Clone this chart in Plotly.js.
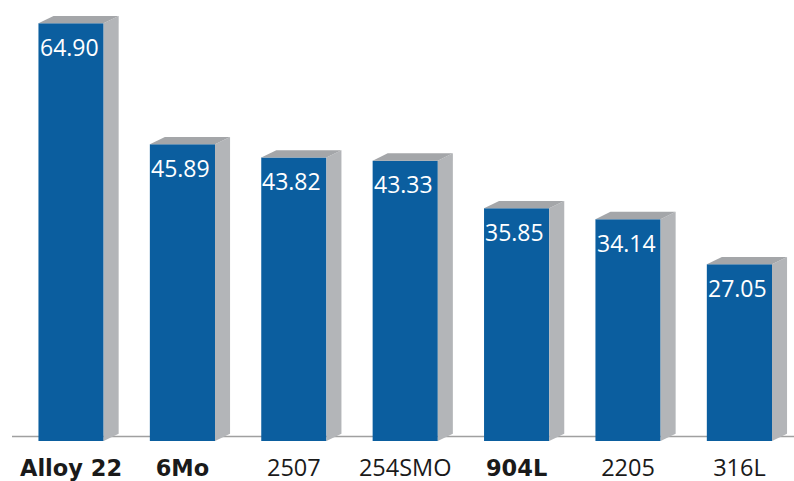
<!DOCTYPE html>
<html><head><meta charset="utf-8">
<script src="https://cdn.plot.ly/plotly-3.0.1.min.js"></script>
<style>html,body{margin:0;padding:0;background:#fff}</style>
</head><body><div id="chart" style="width:794px;height:481px"></div>
<script>
const categories = ['Alloy 22', '6Mo', '2507', '254SMO', '904L', '2205', '316L'];
const values = [64.90, 45.89, 43.82, 43.33, 35.85, 34.14, 27.05];
const boldCategories = ['Alloy 22', '6Mo', '904L'];
const valueLabels = values.map(v => v.toFixed(2));

const BASE = -0.7, W = 0.585, DX = 0.135, DY = 1.15;
const BLUE = '#0b5e9f', SIDE = '#b3b5b8', TOP = '#a4a6a9';
const xs = categories.map((c, i) => i);
const tickText = categories.map(c => boldCategories.includes(c)
  ? '<span style="font-family:DejaVu Sans;font-weight:bold;font-size:22.5px">' + c + '</span>' : c);

const traces = [];
values.forEach((v, i) => {
  const r = i + W / 2, l = i - W / 2;
  traces.push({type: 'scatter', mode: 'lines', x: [r, r + DX, r + DX, r, r], y: [BASE, BASE + DY, v + DY, v, BASE],
    fill: 'toself', fillcolor: SIDE, line: {width: 0, color: SIDE}, hoverinfo: 'skip'});
  traces.push({type: 'scatter', mode: 'lines', x: [l, r, r + DX, l + DX, l], y: [v, v, v + DY, v + DY, v],
    fill: 'toself', fillcolor: TOP, line: {width: 0, color: TOP}, hoverinfo: 'skip'});
});
traces.push({type: 'bar', x: xs, y: values.map(v => v - BASE), base: BASE, width: W,
  marker: {color: BLUE, line: {width: 0}}, hoverinfo: 'skip'});

const annotations = values.map((v, i) => ({x: i, y: v, xref: 'x', yref: 'y', text: valueLabels[i],
  showarrow: false, yanchor: 'middle', yshift: -23.5, xshift: -2,
  font: {family: 'Open Sans', size: 23, color: '#ffffff'}}));

const layout = {
  width: 794, height: 481, margin: {l: 12, r: 0, t: 5, b: 40},
  paper_bgcolor: '#ffffff', plot_bgcolor: '#ffffff', showlegend: false,
  xaxis: {range: [-0.53, 6.49], tickvals: xs, ticktext: tickText, showgrid: false, zeroline: false,
    showline: false, ticks: '', ticklabelstandoff: 10, automargin: false,
    tickfont: {family: 'Open Sans', size: 23.5, color: '#1a1a1a'}},
  yaxis: {range: [BASE, 67.77], visible: false, showgrid: false, zeroline: false},
  shapes: [{type: 'line', xref: 'paper', x0: 0, x1: 1, yref: 'y', y0: 0, y1: 0,
    line: {color: '#a0a0a0', width: 1.5}, layer: 'below'}],
  annotations: annotations
};
Plotly.newPlot('chart', traces, layout, {staticPlot: true, displayModeBar: false});
</script></body></html>
